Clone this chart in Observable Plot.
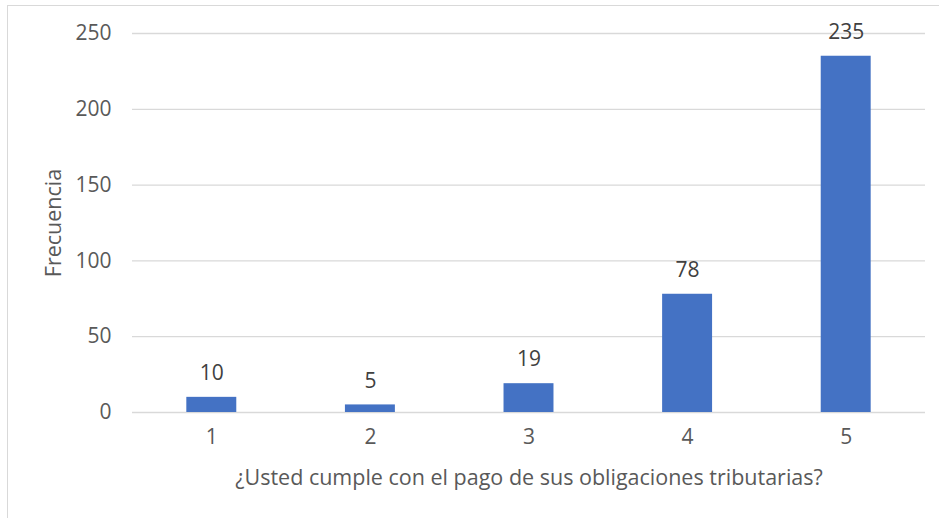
<!DOCTYPE html>
<html>
<head>
<meta charset="utf-8">
<script src="https://cdn.jsdelivr.net/npm/d3@7"></script>
<script src="https://cdn.jsdelivr.net/npm/@observablehq/plot@0.6"></script>
<style>
  html, body { margin: 0; padding: 0; background: #fff; }
  #wrap { position: relative; width: 939px; height: 518px; overflow: hidden; }
  #frame { position: absolute; left: 7px; top: 5px; width: 960px; height: 560px;
           border-top: 1.5px solid #d9d9d9; border-left: 1.5px solid #d9d9d9; box-sizing: border-box; }
  #chart { position: absolute; left: 0; top: 0; }
</style>
</head>
<body>
<div id="wrap"><div id="frame"></div><div id="chart"></div></div>
<script>
const categories = [1, 2, 3, 4, 5];
const frecuencias = [10, 5, 19, 78, 235];
const yTicks = [0, 50, 100, 150, 200, 250];
const xTitle = "¿Usted cumple con el pago de sus obligaciones tributarias?";
const yTitle = "Frecuencia";

const data = categories.map((c, i) => ({cat: c, value: frecuencias[i]}));
const FONT = "'Open Sans', sans-serif";

const chart = Plot.plot({
  width: 939,
  height: 518,
  marginLeft: 132,
  marginRight: 14,
  marginTop: 33,
  marginBottom: 106,
  style: {fontFamily: FONT, background: "transparent"},
  x: {type: "band", domain: categories, paddingInner: 0.685, paddingOuter: 0.3425, round: false},
  y: {domain: [0, 250]},
  marks: [
    Plot.gridY(yTicks, {stroke: "#d9d9d9", strokeOpacity: 1, strokeWidth: 1.3}),
    Plot.axisY(yTicks, {tickSize: 0, tickPadding: 21, fontSize: 21, fill: "#595959", label: null}),
    Plot.axisX({tickSize: 0, tickPadding: 17, fontSize: 21, fill: "#595959", label: null}),
    Plot.barY(data, {x: "cat", y: "value", fill: "#4472c4"}),
    Plot.text(data, {x: "cat", y: "value", text: d => String(d.value), dy: -24, fontSize: 21, fill: "#404040"}),
    Plot.text([yTitle], {frameAnchor: "left", dx: -78, rotate: -90, textAnchor: "middle", lineAnchor: "middle", fontSize: 21.5, fill: "#595959"}),
    Plot.text([xTitle], {frameAnchor: "bottom", dy: 66, textAnchor: "middle", lineAnchor: "middle", fontSize: 21.5, fill: "#595959"})
  ]
});
document.getElementById("chart").appendChild(chart);
</script>
</body>
</html>
